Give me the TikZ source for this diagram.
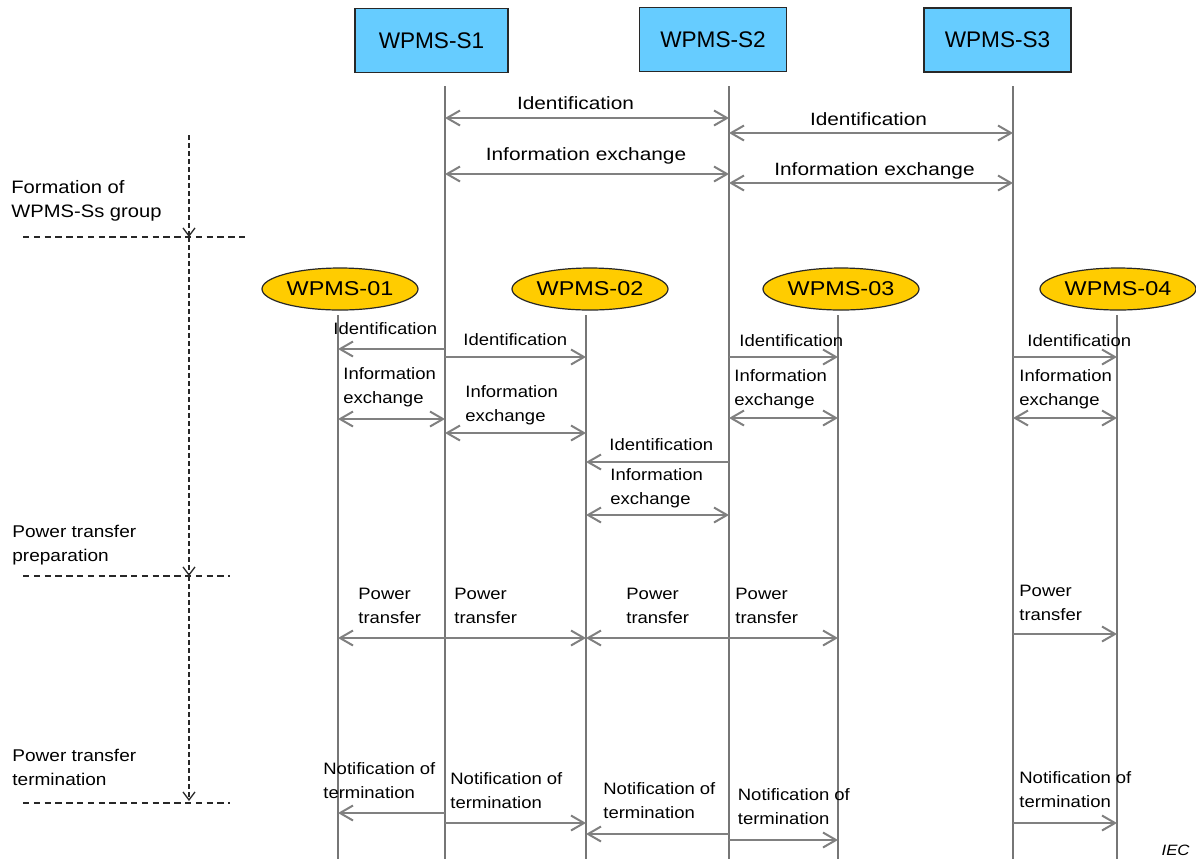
\documentclass[tikz,border=0pt]{standalone}
\usepackage{fontspec}
\setmainfont{Liberation Sans}
\newfontfamily\lblfont[FakeStretch=1.12]{Liberation Sans}
\newfontfamily\widefont[FakeStretch=1.17]{Liberation Sans}
\usetikzlibrary{arrows.meta,shapes.geometric}
\definecolor{boxblue}{RGB}{102,204,255}
\definecolor{devgold}{RGB}{255,204,0}
\definecolor{edge}{RGB}{40,40,40}
\definecolor{wire}{RGB}{128,128,128}
\definecolor{life}{RGB}{118,118,118}
\newcommand{\twoline}[2]{\begin{tabular}[t]{@{}l@{}}#1\\#2\end{tabular}}

\begin{document}
\begin{tikzpicture}[x=0.5pt,y=-0.5pt,
  >={Straight Barb[length=6.5pt,width=7.5pt]},
  station/.style={draw=edge,line width=0.8pt,fill=boxblue,minimum width=73.5pt,
    minimum height=32pt,inner sep=0pt,font=\fontsize{11.3pt}{13pt}\selectfont},
  device/.style={ellipse,draw=edge,line width=0.6pt,fill=devgold,minimum width=78pt,
    minimum height=21pt,inner sep=0pt,font=\widefont\fontsize{10pt}{12pt}\selectfont},
  lifeline/.style={draw=life,line width=1pt},
  msg/.style={draw=wire,line width=1pt},
  toplbl/.style={anchor=base,inner sep=0pt,font=\widefont\fontsize{8.9pt}{12pt}\selectfont},
  lbl/.style={anchor=base west,inner sep=0pt,font=\lblfont\fontsize{8.25pt}{12pt}\selectfont},
  phaselbl/.style={anchor=base west,inner sep=0pt,font=\lblfont\fontsize{8.5pt}{12pt}\selectfont},
  phase/.style={draw=edge,line width=0.65pt,dash pattern=on 3.2pt off 2.2pt},
  phasearrow/.style={draw=edge,line width=0.65pt,dash pattern=on 2.5pt off 1.5pt,
    -{Straight Barb[length=4pt,width=6pt]}},
]
\useasboundingbox (0,0) rectangle (1196,859);

% ---------- lifelines ----------
\coordinate (ls1) at (445,86);   \coordinate (ls1b) at (445,859);
\coordinate (ls2) at (729,86);   \coordinate (ls2b) at (729,859);
\coordinate (ls3) at (1013,86);  \coordinate (ls3b) at (1013,859);
\coordinate (l1) at (338,315);   \coordinate (l1b) at (338,859);
\coordinate (l2) at (586,315);   \coordinate (l2b) at (586,859);
\coordinate (l3) at (838,315);   \coordinate (l3b) at (838,859);
\coordinate (l4) at (1117,315);  \coordinate (l4b) at (1117,859);
\foreach \a in {ls1,ls2,ls3,l1,l2,l3,l4}
  \draw[lifeline] (\a) -- (\a b);

% ---------- participants ----------
\node[station,minimum width=76.5pt] (s1) at (431.5,40.5) {WPMS-S1};
\node[station] (s2) at (713,39.5) {WPMS-S2};
\node[station] (s3) at (997.5,40) {WPMS-S3};
\node[device] (p1) at (340,289) {WPMS-01};
\node[device] (p2) at (590,289) {WPMS-02};
\node[device] (p3) at (841,289) {WPMS-03};
\node[device] (p4) at (1118,289) {WPMS-04};

% ---------- group formation among stations ----------
\draw[msg,<->] (ls1 |- 0,118) -- (ls2 |- 0,118);
\node[toplbl] (ta) at (575.5,109) {Identification};
\draw[msg,<->] (ls2 |- 0,133) -- (ls3 |- 0,133);
\node[toplbl] (tb) at (868.5,125) {Identification};
\draw[msg,<->] (ls1 |- 0,174) -- (ls2 |- 0,174);
\node[toplbl] (tc) at (586,160) {Information exchange};
\draw[msg,<->] (ls2 |- 0,183) -- (ls3 |- 0,183);
\node[toplbl] (td) at (874.5,175) {Information exchange};

% ---------- power transfer preparation ----------
\draw[msg,->] (ls1 |- 0,349) -- (l1 |- 0,349);
\node[lbl] (m1) at (333,334.5) {Identification};
\draw[msg,->] (ls1 |- 0,357) -- (l2 |- 0,357);
\node[lbl] (m2) at (463,345) {Identification};
\draw[msg,<->] (l1 |- 0,419) -- (ls1 |- 0,419);
\node[lbl] (m3) at (343,379) {\twoline{Information}{exchange}};
\draw[msg,<->] (ls1 |- 0,433) -- (l2 |- 0,433);
\node[lbl] (m4) at (465,397) {\twoline{Information}{exchange}};
\draw[msg,->] (ls2 |- 0,357) -- (l3 |- 0,357);
\node[lbl] (m5) at (739,346) {Identification};
\draw[msg,<->] (ls2 |- 0,418) -- (l3 |- 0,418);
\node[lbl] (m6) at (734,381) {\twoline{Information}{exchange}};
\draw[msg,->] (ls3 |- 0,357) -- (l4 |- 0,357);
\node[lbl] (m7) at (1027,346) {Identification};
\draw[msg,<->] (ls3 |- 0,418) -- (l4 |- 0,418);
\node[lbl] (m8) at (1019,381) {\twoline{Information}{exchange}};
\draw[msg,->] (ls2 |- 0,462) -- (l2 |- 0,462);
\node[lbl] (m9) at (609,450) {Identification};
\draw[msg,<->] (l2 |- 0,515) -- (ls2 |- 0,515);
\node[lbl] (m10) at (610,480) {\twoline{Information}{exchange}};

% ---------- power transfer ----------
\draw[msg,->] (ls1 |- 0,638) -- (l1 |- 0,638);
\node[lbl] (w1) at (358,599) {\twoline{Power}{transfer}};
\draw[msg,->] (ls1 |- 0,638) -- (l2 |- 0,638);
\node[lbl] (w2) at (454,599) {\twoline{Power}{transfer}};
\draw[msg,->] (ls2 |- 0,638) -- (l2 |- 0,638);
\node[lbl] (w3) at (626,599) {\twoline{Power}{transfer}};
\draw[msg,->] (ls2 |- 0,638) -- (l3 |- 0,638);
\node[lbl] (w4) at (735,599) {\twoline{Power}{transfer}};
\draw[msg,->] (ls3 |- 0,634) -- (l4 |- 0,634);
\node[lbl] (w5) at (1019,596) {\twoline{Power}{transfer}};

% ---------- power transfer termination ----------
\draw[msg,->] (ls1 |- 0,813) -- (l1 |- 0,813);
\node[lbl] (n1) at (323,774) {\twoline{Notification of}{termination}};
\draw[msg,->] (ls1 |- 0,823) -- (l2 |- 0,823);
\node[lbl] (n2) at (450,784) {\twoline{Notification of}{termination}};
\draw[msg,->] (ls2 |- 0,834) -- (l2 |- 0,834);
\node[lbl] (n3) at (603,794) {\twoline{Notification of}{termination}};
\draw[msg,->] (ls2 |- 0,840) -- (l3 |- 0,840);
\node[lbl] (n4) at (737.5,800) {\twoline{Notification of}{termination}};
\draw[msg,->] (ls3 |- 0,823) -- (l4 |- 0,823);
\node[lbl] (n5) at (1019,783) {\twoline{Notification of}{termination}};

% ---------- phase markers ----------
\coordinate (ph0) at (189,135);
\coordinate (ph1) at (189,237);
\coordinate (ph2) at (189,576);
\coordinate (ph3) at (189,801);
\draw[phasearrow] (ph0) -- (ph1);
\draw[phasearrow] (ph1) -- (ph2);
\draw[phasearrow] (ph2) -- (ph3);
\coordinate (h1a) at (23,237);  \coordinate (h1b) at (247,237);
\coordinate (h2a) at (23,576);  \coordinate (h2b) at (230,576);
\coordinate (h3a) at (23,803);  \coordinate (h3b) at (230,803);
\draw[phase] (h1a) -- (h1b);
\draw[phase] (h2a) -- (h2b);
\draw[phase] (h3a) -- (h3b);
\node[phaselbl,font=\lblfont\fontsize{9pt}{12pt}\selectfont] (f1) at (11,193)
  {\twoline{Formation of}{WPMS-Ss group}};
\node[phaselbl] (f2) at (12,537) {\twoline{Power transfer}{preparation}};
\node[phaselbl] (f3) at (12,761) {\twoline{Power transfer}{termination}};

% ---------- source mark ----------
\node[anchor=base east,inner sep=0pt,font=\lblfont\itshape\fontsize{7.5pt}{9pt}\selectfont]
  (iec) at (1190,855) {IEC};
\end{tikzpicture}
\end{document}
